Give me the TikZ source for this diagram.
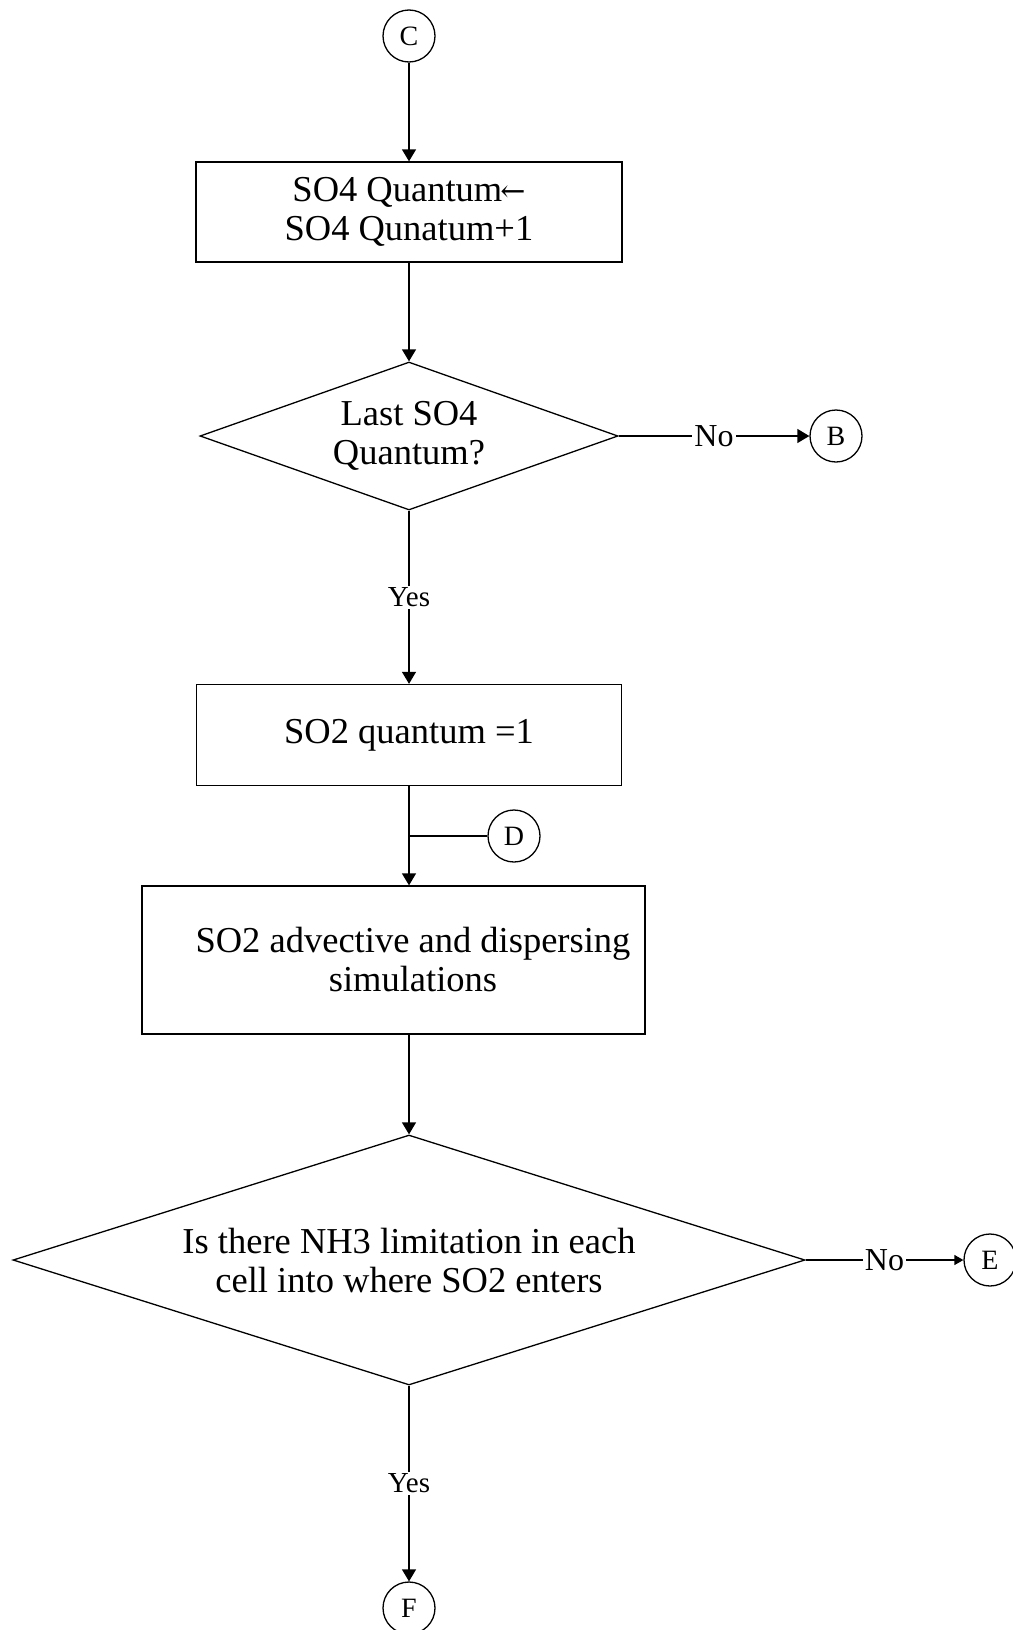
\documentclass[tikz,border=0pt]{standalone}
\usepackage{fontspec}
\setmainfont{Liberation Serif}
\newfontfamily\arrowfont{DejaVu Serif}
\usetikzlibrary{shapes.geometric,arrows.meta}
\begin{document}
\begin{tikzpicture}[x=1pt,y=-1pt,
  line width=1.3pt,
  flow/.style={-{Triangle[width=14pt,length=12pt]}},
  smallflow/.style={-{Triangle[width=10pt,length=9pt]}},
  bodytext/.style={font=\fontsize{36.5}{39}\selectfont},
  procbox/.style={draw, rectangle, inner sep=0pt, align=center, bodytext},
  decision/.style={draw, diamond, inner sep=0pt, align=center, bodytext},
  connector/.style={draw, circle, minimum size=52pt, inner sep=0pt,
    font=\fontsize{28}{28}\selectfont},
  nolbl/.style={fill=white, inner sep=2pt, font=\fontsize{32}{32}\selectfont},
  yeslbl/.style={fill=white, inner sep=2pt, font=\fontsize{29}{29}\selectfont},
]
\useasboundingbox (0,0) rectangle (1012,1630);
\fill[white] (0,0) rectangle (1012,1630);

% nodes
\node[connector] (C) at (409,36) {C};
\node[procbox, minimum width=426pt, minimum height=100pt] (q4) at (409,212)
  {SO4 Quantum\kern-2pt{\arrowfont\fontsize{30}{30}\selectfont ←}\\SO4 Qunatum+1};
\node[decision, aspect=2.8, minimum width=418pt, minimum height=148pt] (last) at (409,436)
  {Last SO4\\Quantum?};
\node[connector] (B) at (836,436) {B};
\node[procbox, minimum width=425pt, minimum height=101pt] (q2) at (409,735)
  {SO2 quantum =1};
\node[connector] (D) at (514,836) {D};
\node[draw, rectangle, minimum width=503pt, minimum height=148pt] (sim) at (393.5,960) {};
\node[bodytext, align=center, inner sep=0pt] (simtext) at (413,960)
  {SO2 advective and dispersing\\simulations};
\node[decision, aspect=3.2, minimum width=792pt, minimum height=250pt] (nh3) at (409,1260)
  {Is there NH3 limitation in each\\cell into where SO2 enters};
\node[connector] (E) at (990,1260) {E};
\node[connector] (F) at (409,1608) {F};

% connectors
\draw[flow] (C) -- (q4);
\draw[flow] (q4) -- (last);
\draw[flow] (last) -- node[nolbl]{No} (B);
\draw[flow] (last) -- node[yeslbl]{Yes} (q2);
\draw[flow] (q2.south) -- (q2.south |- sim.north);
\coordinate (join) at (q2.south |- D.west);
\draw (D.west) -- (join);
\draw[flow] (nh3.north |- sim.south) -- (nh3.north);
\draw[smallflow] (nh3) -- node[nolbl]{No} (E);
\draw[flow] (nh3) -- node[yeslbl]{Yes} (F);
\end{tikzpicture}
\end{document}
